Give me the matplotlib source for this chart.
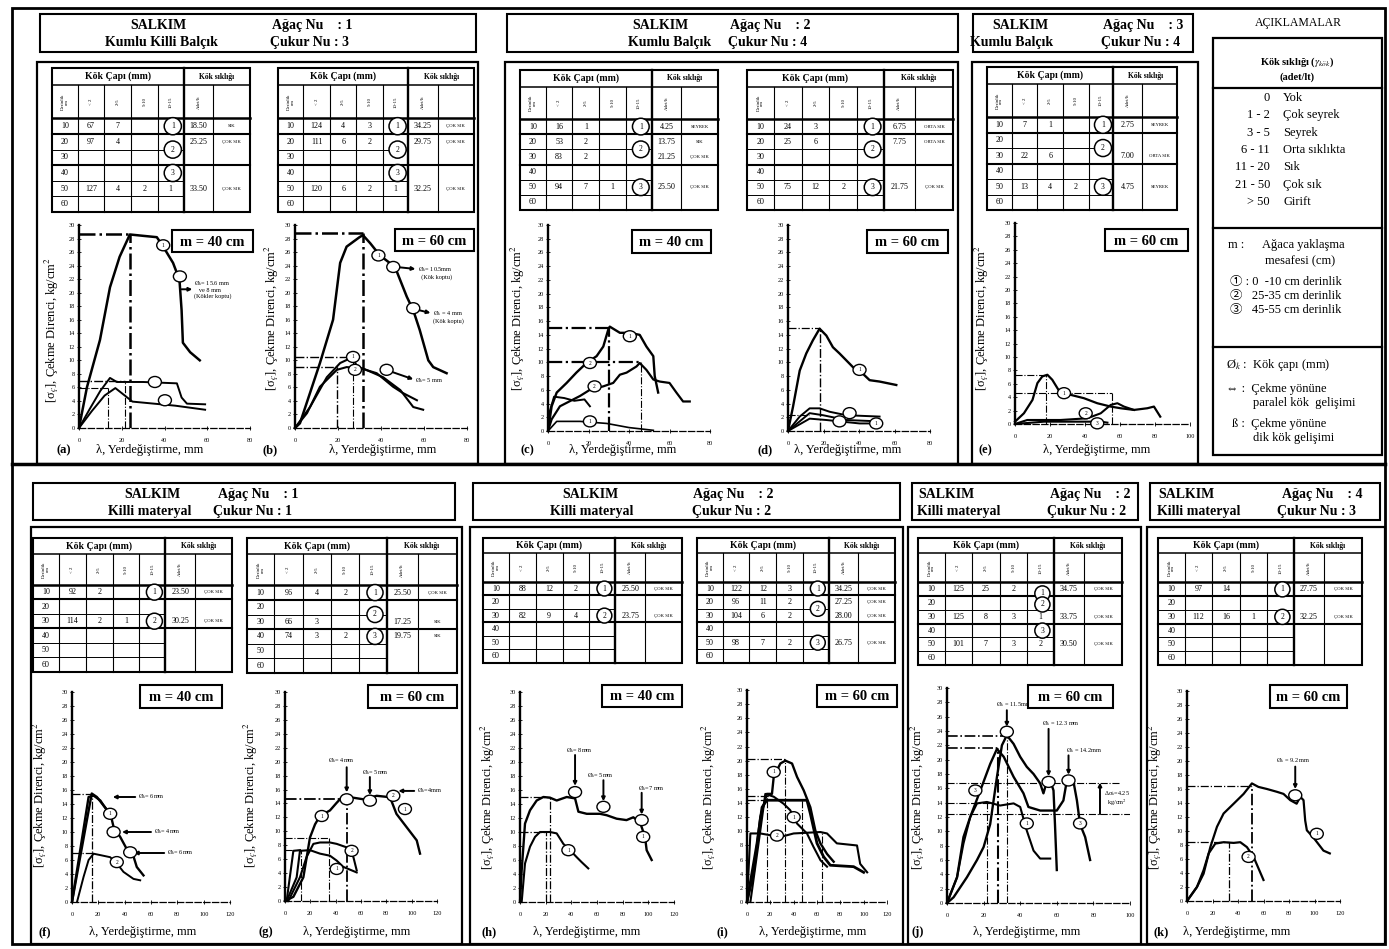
import numpy as np
import matplotlib.pyplot as plt
from matplotlib.patches import Rectangle, Circle, Ellipse

plt.rcParams['font.family'] = ['Liberation Serif', 'DejaVu Serif', 'Noto Sans CJK JP']
plt.rcParams['mathtext.fontset'] = 'stix'

W, H = 1389, 949

# ---------------- curves: displacement (mm) vs pull-out resistance (kg/cm2) ----------------
a1_x = [0, 3.7, 9.8, 14.5, 19, 23.8, 30, 36.4, 39, 44, 47, 48, 48.6, 52, 56.5]
a1_y = [0, 6, 13, 20.8, 25.3, 28.6, 28.4, 28.2, 27, 24.4, 21.9, 17.4, 12.6, 11.2, 10]
a2_x = [0, 5, 10, 14.5, 17.7, 30, 45.8, 48, 50.5, 59]
a2_y = [0, 2.8, 5.5, 7.4, 6.8, 6.8, 6.6, 4.5, 3.6, 3.5]
a3_x = [0, 6, 12, 17, 21, 25, 35, 45, 59]
a3_y = [0, 2.5, 4.8, 5.9, 4.9, 3.9, 3.6, 3.3, 2.7]

b1_x = [0, 2.3, 11.6, 17.7, 21, 24, 30, 31.6, 35, 39.5, 46.5, 52, 55, 58, 62, 64.3, 70.5]
b1_y = [0, 0.7, 9.6, 16, 24.4, 26.8, 28.2, 28.5, 27.3, 25.5, 23.8, 19.4, 17.4, 14.5, 10, 9, 8.1]
b2_x = [0, 7, 14.8, 21, 27, 28.8, 38, 45.6, 50, 56.7]
b2_y = [0, 3.1, 7.5, 9.6, 10.5, 9, 8.1, 6.1, 5.2, 4.1]
b3_x = [0, 5.6, 11.6, 19.5, 24, 31.6, 41, 49, 55, 59.6]
b3_y = [0, 2.2, 6.1, 8.6, 9, 8.8, 7.5, 5.6, 3.1, 2.7]

c1_x = [0, 1.8, 4.3, 9.2, 14, 19, 24, 27.3, 29.7, 30.5, 35.5, 40.4, 45.3, 48.6, 52, 52.7, 54.4]
c1_y = [0, 3.6, 5.6, 7, 8.5, 9.9, 10.9, 12.3, 14.7, 15.2, 14.3, 14.3, 14, 12.3, 10.9, 8, 5.6]
c2_x = [0, 1.8, 5.9, 15.8, 20.7, 27.3, 32.2, 35.5, 38.8, 43.7, 45.3, 48.6, 52, 55.2, 60, 63.4, 66.7, 70]
c2_y = [0, 1.7, 3.6, 5.1, 6, 6.5, 7, 8.2, 8.5, 9.4, 9.9, 8.9, 7.5, 7.2, 7, 5.6, 4.3, 4.3]
c3_x = [0, 1, 3, 8, 13, 18, 20.7]
c3_y = [0, 3, 5, 4.8, 4.4, 4.6, 3.6]
c4_x = [0, 4.3, 15.8, 29, 40, 52]
c4_y = [0, 1.4, 1.4, 1.1, 0.5, 0.1]

d1_x = [0, 2.8, 6.6, 10.3, 14, 17.8, 21.6, 25.3, 29, 32.8, 36.6, 40.3, 46, 51.6, 61]
d1_y = [0, 3.5, 8.8, 11.3, 13.2, 14.9, 13.9, 12.2, 11.3, 10.3, 9.3, 8.8, 7.4, 7.2, 6.7]
d2_x = [0, 6.6, 12.2, 17.8, 23.5, 32.8, 51.6]
d2_y = [0, 2.1, 3.3, 3.3, 2.8, 2.3, 2.1]
d3_x = [0, 12.2, 19.7, 32.8, 51.6]
d3_y = [0, 2.6, 2.3, 1.6, 1.4]
d4_x = [0, 12.2, 21.6, 40.3, 49.7]
d4_y = [0, 1.8, 1.6, 1.1, 1.1]

e1_x = [0, 5.1, 10, 12.8, 15.6, 18.5, 21.3, 26, 31.8, 39.4, 47, 54.7, 60.4, 68, 75.6, 79.4, 83]
e1_y = [0.35, 1.6, 3.6, 6.1, 7.1, 7.35, 6.6, 4.6, 4.35, 3.85, 3.1, 2.6, 2.35, 2.1, 2.35, 2.6, 1.1]
e2_x = [0, 7, 26, 41.3, 49, 54.7, 58.5, 62.3, 68]
e2_y = [0, 0.6, 0.6, 0.85, 1.6, 2.85, 3.1, 2.6, 2.1]
e3_x = [0, 16.6, 49, 52.8]
e3_y = [0, 0.35, 0.35, 0.2]

f1_x = [0, 15, 18.9, 23.9, 29.2, 31.6, 36.6, 41.5, 46.9, 49.2, 54.3]
f1_y = [0, 15.5, 15, 13.8, 12.6, 10.7, 9.3, 7.6, 6.4, 5, 3.8]
f2_x = [0, 12.6, 16.4, 21.5, 26.5]
f2_y = [0, 15, 15.2, 14.5, 13.1]
f3_x = [3.8, 8.8, 12.6, 16.4, 21.5, 29, 34.1, 39.1, 46.7, 51.8]
f3_y = [0, 3.6, 6, 6.9, 6.7, 6.4, 5.5, 4.3, 3.3, 3.1]

g1_x = [0, 6.6, 14.5, 19.7, 23.7, 27.6, 35.5, 40.8, 46, 51.3, 61.8, 72.4, 82.9, 88, 96, 104, 106.6]
g1_y = [0, 0.6, 3.4, 9.1, 11, 12.2, 13, 14.1, 15.1, 14.9, 14.6, 15.1, 14.9, 12.5, 10.6, 8.7, 6.8]
g2_x = [2.6, 11.8, 17, 22.4, 27.6, 35.5, 40.8, 48.7, 54, 56.6]
g2_y = [0, 3.4, 6.3, 8.2, 8.4, 8.4, 8.2, 7.7, 6.3, 4.4]
g3_x = [1.3, 9.2, 11.8, 19.7, 27.6, 35.5, 40.8, 46, 56.6]
g3_y = [0, 3.4, 7.2, 7.3, 6.8, 6.5, 5.8, 4.9, 4.1]
g4_x = [1.3, 6.6, 11.8]
g4_y = [0, 7.2, 7.3]

h1_x = [0, 1.3, 3.9, 7.8, 13, 18.2, 23.4, 28.6, 36.4, 42.9, 45.5, 52, 62.3, 67.5, 75.3, 83, 88.3, 93.5, 97.4, 98.7, 102.6]
h1_y = [0, 4.5, 11.2, 13.1, 14.5, 15, 14.9, 14.5, 15, 14.8, 12.9, 12.6, 12.6, 12.4, 11.9, 11.7, 12.1, 11.4, 9.3, 7.4, 6]
h2_x = [1.3, 3.9, 7.8, 11.7, 15.6, 23.4, 28.6, 33.8, 39, 44.2, 48, 53.2]
h2_y = [0, 5.5, 7.9, 9.3, 10, 10, 9.8, 8.3, 7.4, 6.4, 5.7, 4.8]

i1_x = [0, 5.7, 11.4, 17, 21.4, 22.9, 28.6, 32.9, 38.6, 42.9, 48.6, 54.3, 58.6, 62.9, 68.6, 74.3]
i1_y = [0, 4, 12, 15.3, 15.3, 17.7, 19.6, 20, 19.6, 17.7, 15.8, 13.4, 10.1, 8.3, 6.8, 5.7]
i2_x = [0, 8.6, 12.9, 17, 51.4, 54.3, 60, 65.7, 71.4, 91.4, 100]
i2_y = [0, 8.3, 13.4, 14.4, 14.4, 12.5, 8.3, 6.4, 5.2, 5, 4.2]
i3_x = [0, 2.9, 11.4, 28.6, 40, 62.9, 68.6, 77, 94.3, 97, 103]
i3_y = [0, 9.7, 9.7, 9.2, 9.7, 9.9, 9.7, 8.3, 8, 5.4, 4.2]
i4_x = [2.9, 11.4, 15.7, 22.9, 31.4, 37, 42.9, 51.4, 57, 63, 68.6]
i4_y = [0, 10.1, 15.3, 14.9, 13.9, 13, 11.1, 9.7, 7.8, 5.9, 5]

j1_x = [0, 3.6, 10.9, 16.4, 20, 23.6, 27.3, 30, 32.7, 36.4, 40, 43.6, 47.3, 50.9, 52.7, 54.5, 56.4, 58.2, 59, 60]
j1_y = [0, 0.8, 3.6, 6, 7.8, 11, 17.6, 22, 23.4, 22.2, 20.4, 19, 18, 16.7, 15.3, 16.9, 17.1, 15.7, 11, 4.6]
j2_x = [0, 5.5, 9, 12.7, 18.2, 23.6, 27.3, 31, 36.4, 41.8, 44.5, 50.9, 60, 63.6, 65.5, 69, 71, 72.7, 75.5, 78.2]
j2_y = [0, 3.6, 9.2, 12, 15.7, 19.4, 21.5, 20.4, 17.6, 15.3, 13.4, 12.9, 12.9, 14.3, 17.1, 17.1, 14.3, 11, 9.2, 6]
j3_x = [0, 5.5, 9, 12.7, 16.4, 21.8, 29, 36.4, 40, 43.6, 47.3, 50.9, 56.4]
j3_y = [0, 3.6, 8.3, 12, 13.9, 14.1, 13.6, 13.9, 13.4, 10.1, 7.3, 6.2, 6.2]

k1_x = [0, 7.8, 13, 18.3, 23.5, 28.7, 36.6, 44.4, 50.9, 56, 62.7, 70.5, 75.7, 81, 86, 88.8, 91.4, 92.7, 94, 99, 107, 112]
k1_y = [0, 2, 3.9, 7.7, 10.6, 12.5, 13.9, 15.3, 16.8, 16.3, 16, 15.6, 15.3, 14.4, 13.9, 14.9, 14.4, 11.5, 10.1, 9.1, 7.2, 6.8]
k2_x = [0, 7.8, 13, 17, 22.2, 28.7, 36.6, 41.8, 47, 52.2, 57.4, 60]
k2_y = [0, 2, 4.4, 6.8, 8.2, 8.4, 8.3, 8.4, 7.7, 6.3, 4.1, 3]

# dash-dot guide lines: ('h', y, x_end) / ('v', x, y_end)
dash_a = [('h', 28.6, 24, 1.8), ('v', 24, 28.6, 1.8), ('h', 7, 21.5, 1.0), ('v', 21.5, 7, 0.8), ('h', 5.9, 13.6, 0.8), ('v', 13.6, 5.9, 0.8)]
dash_b = [('h', 28.8, 31.6, 1.8), ('v', 31.6, 28.8, 1.8), ('h', 10.5, 27, 1.0), ('v', 27, 10.5, 0.8), ('h', 9, 19.5, 1.0), ('v', 19.5, 9, 1.0)]
dash_c = [('h', 15, 30.2, 1.6), ('v', 30.2, 15, 1.6), ('h', 10, 45.3, 1.6), ('v', 45.8, 10, 0.8)]
dash_d = [('h', 15, 18, 0.9), ('v', 18, 15, 1.0), ('h', 2.3, 12, 0.8)]
dash_e = [('h', 7.35, 18, 0.8), ('v', 17.5, 7.35, 0.8), ('h', 4.6, 55.6, 0.8), ('v', 55.6, 4.6, 0.8)]
dash_f = [('h', 15.5, 15, 0.9), ('v', 15, 15.5, 0.9), ('h', 7, 16.4, 0.9)]
dash_g = [('h', 14.7, 48.7, 1.3), ('v', 48.7, 14.7, 1.3), ('h', 9, 35, 0.8), ('v', 35, 9, 0.8), ('h', 7.3, 13, 0.8), ('v', 13, 7.3, 0.8)]
dash_h = [('h', 15, 23, 0.9), ('h', 10, 20, 0.9), ('v', 20, 10, 0.9), ('v', 23, 15, 0.9)]
dash_i = [('h', 20.3, 33, 0.9), ('h', 15, 20, 0.9), ('h', 14.5, 17, 0.9), ('v', 17, 15, 0.8), ('v', 33, 20.3, 0.8), ('v', 47, 14.4, 0.8), ('v', 64, 9.9, 0.8)]
dash_j = [('h', 23.3, 33, 1.2), ('h', 21.6, 28, 1.2), ('h', 16.8, 94, 0.8), ('h', 14, 25, 0.8), ('h', 12.4, 100, 0.8), ('v', 22, 14, 0.8), ('v', 28, 21.6, 1.5), ('v', 33, 23.3, 0.8)]
dash_k = [('h', 16.5, 51, 0.9), ('v', 51, 16.5, 1.3), ('h', 8.4, 33, 0.9), ('v', 33, 8.4, 0.9)]

# numbered rings on the curves
rings_a = [(39.4, 27, "1"), (47.2, 22.4, ""), (35.5, 6.8, ""), (40.2, 4.1, "")]
rings_b = [(38.8, 25.5, "1"), (45.7, 23.8, ""), (55, 17.7, ""), (27, 10.5, "1"), (27.9, 8.6, "2"), (42.6, 8.6, "")]
rings_c = [(40.4, 13.8, "1"), (20.7, 9.9, "2"), (23, 6.5, "2"), (20.7, 1.4, "1")]
rings_d = [(40.3, 8.9, "1"), (34.7, 2.6, ""), (49.7, 1.1, "1"), (29, 1.4, "")]
rings_e = [(28, 4.6, "1"), (40.4, 1.6, "2"), (47, 0.1, "3")]
rings_f = [(29, 12.6, "1"), (31.6, 10, ""), (44.2, 7.1, ""), (34, 5.7, "2")]
rings_g = [(48.7, 14.6, ""), (67, 14.4, ""), (85.5, 15.1, "2"), (94.7, 13.2, "1"), (52.6, 7.2, "2"), (40.8, 4.6, "1"), (29, 12.2, "1")]
rings_h = [(42.9, 15.7, ""), (65, 13.6, ""), (94.8, 11.7, ""), (96, 9.3, "1"), (37.7, 7.4, "1")]
rings_i = [(22.9, 18.4, "1"), (40, 12, "1"), (25.7, 9.4, "2")]
rings_j = [(32.7, 23.9, ""), (55.5, 16.9, ""), (66.4, 17.1, ""), (43.6, 11.1, "1"), (72.7, 11.1, "3"), (15.5, 15.7, "3")]
rings_k = [(84.9, 15.1, ""), (101.8, 9.6, "1"), (48.3, 6.3, "2")]

# root diameter notes
notes_a = [("Ø$_k$= 15.6 mm\n   ve 8 mm\n(Kökler koptu)", 54, 20.5)]
notes_b = [("Ø$_k$= 10.5mm\n  (Kök koptu)", 57, 23), ("Ø$_k$ = 4 mm\n(Kök koptu)", 64, 16.5), ("Ø$_k$= 5 mm", 56, 7)]
notes_f = [("Ø$_k$= 6mm", 50, 15), ("Ø$_k$= 4mm", 62, 10), ("Ø$_k$= 6mm", 72, 7)]
notes_g = [("Ø$_k$= 4mm", 34, 20.1), ("Ø$_k$= 5mm", 61, 18.4), ("Ø$_k$=4mm", 104, 15.8)]
notes_h = [("Ø$_k$= 8mm", 36, 21.7), ("Ø$_k$= 5mm", 52, 18.1), ("Ø$_k$=7 mm", 92, 16.2)]
notes_j = [("Ø$_k$ = 11.5mm", 27, 27.7), ("Ø$_k$ = 12.3 mm", 52, 25), ("Ø$_k$ = 14.2mm", 65, 21.3), ("Δσ$_k$=4.25\n  kg/cm$^2$", 86, 14.6)]
notes_k = [("Ø$_k$ = 9.2 mm", 70, 20)]

lines_a = [(48, 20.5, 53, 20.5)]
lines_b = [(47, 23.8, 56, 23.5), (56.5, 17.5, 63, 17), (45, 8.3, 55, 7.2)]
lines_f = [(48, 15, 31, 15), (60, 10, 38, 10), (70, 7, 47, 7)]
lines_g = [(48.7, 19.2, 48.7, 15.6), (67, 17.8, 67, 15.2), (102, 15.8, 89.5, 15.8)]
lines_h = [(42.9, 21, 42.9, 16.6), (65, 17.4, 65, 14.4), (94.8, 15.6, 94.8, 12.5)]
lines_j = [(32.7, 26.9, 32.7, 24.6), (55.5, 24.3, 55.5, 17.7), (66.4, 20.6, 66.4, 17.9), (83.6, 12.4, 83.6, 16.8)]
lines_k = [(84.9, 19.2, 84.9, 16)]

# ---------------- root tables ----------------
depths = ["10", "20", "30", "40", "50", "60"]
col_heads = ["Derinlik\ncm", "< 2", "2-5", "5-10", "10-15", "Adet/lt"]

tab_a = [["67", "7", "", ""], ["97", "4", "", ""], ["", "", "", ""], ["", "", "", ""], ["127", "4", "2", "1"], ["", "", "", ""]]
dens_a = [(0, "18.50", "SIK"), (1, "25.25", "ÇOK SIK"), (4, "33.50", "ÇOK SIK")]
tab_b = [["124", "4", "3", ""], ["111", "6", "2", ""], ["", "", "", ""], ["", "", "", ""], ["120", "6", "2", "1"], ["", "", "", ""]]
dens_b = [(0, "34.25", "ÇOK SIK"), (1, "29.75", "ÇOK SIK"), (4, "32.25", "ÇOK SIK")]
tab_c = [["16", "1", "", ""], ["53", "2", "", ""], ["83", "2", "", ""], ["", "", "", ""], ["94", "7", "1", ""], ["", "", "", ""]]
dens_c = [(0, "4.25", "SEYREK"), (1, "13.75", "SIK"), (2, "21.25", "ÇOK SIK"), (4, "25.50", "ÇOK SIK")]
tab_d = [["24", "3", "", ""], ["25", "6", "", ""], ["", "", "", ""], ["", "", "", ""], ["75", "12", "2", ""], ["", "", "", ""]]
dens_d = [(0, "6.75", "ORTA SIK"), (1, "7.75", "ORTA SIK"), (4, "21.75", "ÇOK SIK")]
tab_e = [["7", "1", "", ""], ["", "", "", ""], ["22", "6", "", ""], ["", "", "", ""], ["13", "4", "2", ""], ["", "", "", ""]]
dens_e = [(0, "2.75", "SEYREK"), (2, "7.00", "ORTA SIK"), (4, "4.75", "SEYREK")]
tab_f = [["92", "2", "", ""], ["", "", "", ""], ["114", "2", "1", ""], ["", "", "", ""], ["", "", "", ""], ["", "", "", ""]]
dens_f = [(0, "23.50", "ÇOK SIK"), (2, "30.25", "ÇOK SIK")]
tab_g = [["96", "4", "2", ""], ["", "", "", ""], ["66", "3", "", ""], ["74", "3", "2", ""], ["", "", "", ""], ["", "", "", ""]]
dens_g = [(0, "25.50", "ÇOK SIK"), (2, "17.25", "SIK"), (3, "19.75", "SIK")]
tab_h = [["88", "12", "2", ""], ["", "", "", ""], ["82", "9", "4", ""], ["", "", "", ""], ["", "", "", ""], ["", "", "", ""]]
dens_h = [(0, "25.50", "ÇOK SIK"), (2, "23.75", "ÇOK SIK")]
tab_i = [["122", "12", "3", ""], ["96", "11", "2", ""], ["104", "6", "2", ""], ["", "", "", ""], ["98", "7", "2", ""], ["", "", "", ""]]
dens_i = [(0, "34.25", "ÇOK SIK"), (1, "27.25", "ÇOK SIK"), (2, "28.00", "ÇOK SIK"), (4, "26.75", "ÇOK SIK")]
tab_j = [["125", "25", "2", ""], ["", "", "", ""], ["125", "8", "3", "1"], ["", "", "", ""], ["101", "7", "3", "2"], ["", "", "", ""]]
dens_j = [(0, "34.75", "ÇOK SIK"), (2, "33.75", "ÇOK SIK"), (4, "30.50", "ÇOK SIK")]
tab_k = [["97", "14", "", ""], ["", "", "", ""], ["112", "16", "1", ""], ["", "", "", ""], ["", "", "", ""], ["", "", "", ""]]
dens_k = [(0, "27.75", "ÇOK SIK"), (2, "32.25", "ÇOK SIK")]

ring3 = [(0, "1"), (1.5, "2"), (3, "3")]
ring3_low = [(0, "1"), (1.5, "2"), (4, "3")]
ring2 = [(0, "1"), (2, "2")]
ring_j = [(0.3, "1"), (1.1, "2"), (3, "3")]

headers = [
    (40, 14, 476, 52, [("SALKIM", 158, 'center'), ("Ağaç Nu    : 1", 272, 'left')], [("Kumlu Killi Balçık", 161, 'center'), ("Çukur Nu : 3", 270, 'left')]),
    (507, 14, 958, 52, [("SALKIM", 660, 'center'), ("Ağaç Nu    : 2", 730, 'left')], [("Kumlu Balçık", 670, 'center'), ("Çukur Nu : 4", 728, 'left')]),
    (973, 14, 1193, 52, [("SALKIM", 1020, 'center'), ("Ağaç Nu    : 3", 1103, 'left')], [("Kumlu Balçık", 1012, 'center'), ("Çukur Nu : 4", 1101, 'left')]),
    (33, 483, 455, 520, [("SALKIM", 152, 'center'), ("Ağaç Nu    : 1", 218, 'left')], [("Killi materyal", 150, 'center'), ("Çukur Nu : 1", 213, 'left')]),
    (473, 483, 900, 520, [("SALKIM", 590, 'center'), ("Ağaç Nu    : 2", 693, 'left')], [("Killi materyal", 592, 'center'), ("Çukur Nu : 2", 692, 'left')]),
    (912, 483, 1138, 520, [("SALKIM", 918, 'left'), ("Ağaç Nu    : 2", 1050, 'left')], [("Killi materyal", 917, 'left'), ("Çukur Nu : 2", 1047, 'left')]),
    (1150, 483, 1380, 520, [("SALKIM", 1158, 'left'), ("Ağaç Nu    : 4", 1282, 'left')], [("Killi materyal", 1157, 'left'), ("Çukur Nu : 3", 1277, 'left')]),
]

leg_vals = ["0", "1 - 2", "3 - 5", "6 - 11", "11 - 20", "21 - 50", "> 50"]
leg_names = ["Yok", "Çok seyrek", "Seyrek", "Orta sıklıkta", "Sık", "Çok sık", "Girift"]

ylab = "[σ$_ç$], Çekme Direnci, kg/cm$^2$"
xlab = "λ, Yerdeğiştirme, mm"

# ---------------- drawing ----------------
fig = plt.figure(figsize=(W / 100, H / 100), dpi=100)
bg = fig.add_axes([0, 0, 1, 1], zorder=5)
bg.set_xlim(0, W)
bg.set_ylim(H, 0)
bg.axis('off')


def rect(x0, y0, x1, y1, lw=1.3, fc='none'):
    bg.add_patch(Rectangle((x0, y0), x1 - x0, y1 - y0, fill=(fc != 'none'), fc=fc, ec='k', lw=lw))


def draw_table(x0, y0, w, h, cells, dens, rings):
    fr = [0.13, 0.135, 0.135, 0.135, 0.13, 0.15, 0.185]
    xs = x0 + w * np.concatenate([[0], np.cumsum(fr)])
    h1 = h * 0.12
    h2 = h * 0.23
    rh = (h - h1 - h2) / 6
    yd = y0 + h1 + h2
    rect(x0, y0, x0 + w, y0 + h, lw=1.5)
    bg.plot([x0, x0 + w], [y0 + h1] * 2, 'k', lw=1.1)
    bg.plot([x0, x0 + w], [yd] * 2, 'k', lw=1.8)
    for i in range(1, 7):
        top = y0 if i == 5 else y0 + h1
        bg.plot([xs[i]] * 2, [top, y0 + h], 'k', lw=1.7 if i == 5 else 0.8)
    for r in range(1, 6):
        yy = yd + r * rh
        thick = r in (1, 3)
        bg.plot([x0, xs[5]], [yy, yy], 'k', lw=1.5 if thick else 0.7)
        if thick:
            bg.plot([xs[5], x0 + w], [yy, yy], 'k', lw=1.5)
    bg.text((x0 + xs[5]) / 2, y0 + h1 / 2, "Kök Çapı (mm)", ha='center', va='center', fontsize=7, fontweight='bold')
    bg.text((xs[5] + x0 + w) / 2, y0 + h1 / 2, "Kök sıklığı", ha='center', va='center', fontsize=5.5, fontweight='bold')
    for i, t in enumerate(col_heads):
        bg.text((xs[i] + xs[i + 1]) / 2, y0 + h1 + h2 / 2, t, rotation=90, ha='center', va='center', fontsize=3.5, linespacing=0.9)
    for r in range(6):
        cy = yd + (r + 0.5) * rh
        bg.text((xs[0] + xs[1]) / 2, cy, depths[r], ha='center', va='center', fontsize=5.8)
        for c, v in enumerate(cells[r]):
            if v:
                bg.text((xs[c + 1] + xs[c + 2]) / 2, cy, v, ha='center', va='center', fontsize=5.8)
    for r, adet, desc in dens:
        cy = yd + (r + 0.5) * rh
        bg.text((xs[5] + xs[6]) / 2, cy, adet, ha='center', va='center', fontsize=5.8)
        bg.text((xs[6] + xs[7]) / 2, cy, desc, ha='center', va='center', fontsize=3.4)
    for r, t in rings:
        cy = yd + (r + 0.5) * rh
        cx = (xs[4] + xs[5]) / 2 + 2
        bg.add_patch(Circle((cx, cy), rh * 0.55, fc='white', ec='k', lw=1.1, zorder=3))
        bg.text(cx, cy, t, ha='center', va='center', fontsize=5.5, zorder=4)


def draw_panel(p):
    x0, x1, y0, y1 = p['box']
    xmax = p['xmax']
    ax = fig.add_axes([x0 / W, 1 - y0 / H, (x1 - x0) / W, (y0 - y1) / H])
    ax.set_xlim(0, xmax)
    ax.set_ylim(0, 30)
    ax.patch.set_visible(False)
    for s in ('top', 'right'):
        ax.spines[s].set_visible(False)
    ax.spines['left'].set_linewidth(1.7)
    ax.spines['bottom'].set_linewidth(0.9)
    ax.spines['bottom'].set_linestyle((0, (5, 2)))
    ax.set_xticks(np.arange(0, xmax + 1, 20))
    ax.set_yticks(np.arange(0, 31, 2))
    ax.tick_params(labelsize=4.5, length=2.5, width=0.6, direction='inout')
    ax.tick_params(axis='x', pad=6)
    ax.tick_params(axis='y', pad=1.5)
    for cx, cy, lw in p['curves']:
        ax.plot(cx, cy, color='k', lw=lw + 0.2, solid_joinstyle='round', clip_on=False)
    for kind, v, ext, lw in p['dash']:
        if kind == 'h':
            ax.plot([0, ext], [v, v], color='k', lw=lw, ls='-.')
        else:
            ax.plot([v, v], [0, ext], color='k', lw=lw, ls='-.')
    for t, tx, ty in p.get('notes', []):
        ax.text(tx, ty, t, fontsize=4.5, ha='left', va='center', linespacing=1.0)
    for lx0, ly0, lx1, ly1 in p.get('lines', []):
        ax.annotate('', xy=(lx1, ly1), xytext=(lx0, ly0),
                    arrowprops=dict(arrowstyle='-|>', lw=1.4, color='k', mutation_scale=5, shrinkA=0, shrinkB=0))

    def to_px(x, y):
        return x0 + x / xmax * (x1 - x0), y0 - y / 30 * (y0 - y1)

    for rx, ry, t in p['rings']:
        px, py = to_px(rx, ry)
        bg.add_patch(Ellipse((px, py), 13, 11, fc='white', ec='k', lw=1.0))
        if t:
            bg.text(px, py, t, fontsize=4, ha='center', va='center')
    mx0, my0, mx1, my1 = p['mbox']
    rect(mx0, my0, mx1, my1, lw=1.5, fc='white')
    bg.text((mx0 + mx1) / 2, (my0 + my1) / 2 + 1, p['m'], fontsize=10.5, fontweight='bold', ha='center', va='center')
    if p.get('ylab'):
        bg.text(p['ylab'][0], p['ylab'][1], ylab, rotation=90, fontsize=9, ha='center', va='center')
    bg.text(p['xlab'][0], p['xlab'][1], xlab, fontsize=9, ha='center', va='center')
    bg.text(p['plab'][0], p['plab'][1], p['label'], fontsize=9, fontweight='bold', ha='center', va='center')


panels = [
    dict(label="(a)", box=(79, 250, 428, 225), xmax=80, curves=[(a1_x, a1_y, 1.6), (a2_x, a2_y, 1.2), (a3_x, a3_y, 1.2)],
         dash=dash_a, rings=rings_a, notes=notes_a, lines=lines_a, m="m = 40 cm", mbox=(172, 230, 253, 252),
         ylab=(52, 330), xlab=(150, 450), plab=(64, 450)),
    dict(label="(b)", box=(295, 467, 428, 225), xmax=80, curves=[(b1_x, b1_y, 1.6), (b2_x, b2_y, 1.3), (b3_x, b3_y, 1.3)],
         dash=dash_b, rings=rings_b, notes=notes_b, lines=lines_b, m="m = 60 cm", mbox=(395, 229, 474, 251),
         ylab=(272, 318), xlab=(383, 450), plab=(270, 450)),
    dict(label="(c)", box=(548, 710, 431, 225), xmax=80, curves=[(c1_x, c1_y, 1.5), (c2_x, c2_y, 1.4), (c3_x, c3_y, 1.2), (c4_x, c4_y, 1.0)],
         dash=dash_c, rings=rings_c, m="m = 40 cm", mbox=(632, 230, 711, 253),
         ylab=(518, 318), xlab=(623, 450), plab=(527, 450)),
    dict(label="(d)", box=(788, 930, 431, 225), xmax=80, curves=[(d1_x, d1_y, 1.5), (d2_x, d2_y, 1.2), (d3_x, d3_y, 1.2), (d4_x, d4_y, 1.2)],
         dash=dash_d, rings=rings_d, m="m = 60 cm", mbox=(867, 230, 948, 253),
         xlab=(848, 450), plab=(765, 450)),
    dict(label="(e)", box=(1015, 1190, 424, 223), xmax=100, curves=[(e1_x, e1_y, 1.4), (e2_x, e2_y, 1.3), (e3_x, e3_y, 1.3)],
         dash=dash_e, rings=rings_e, m="m = 60 cm", mbox=(1105, 229, 1188, 251),
         ylab=(982, 318), xlab=(1097, 450), plab=(985, 450)),
    dict(label="(f)", box=(72, 230, 902, 692), xmax=120, curves=[(f1_x, f1_y, 1.5), (f2_x, f2_y, 1.5), (f3_x, f3_y, 1.2)],
         dash=dash_f, rings=rings_f, notes=notes_f, lines=lines_f, m="m = 40 cm", mbox=(140, 685, 222, 708),
         ylab=(40, 795), xlab=(143, 932), plab=(45, 932)),
    dict(label="(g)", box=(285, 437, 901, 692), xmax=120, curves=[(g1_x, g1_y, 1.5), (g2_x, g2_y, 1.3), (g3_x, g3_y, 1.3), (g4_x, g4_y, 1.3)],
         dash=dash_g, rings=rings_g, notes=notes_g, lines=lines_g, m="m = 60 cm", mbox=(368, 685, 457, 708),
         ylab=(251, 795), xlab=(357, 932), plab=(266, 932)),
    dict(label="(h)", box=(520, 674, 902, 692), xmax=120, curves=[(h1_x, h1_y, 1.5), (h2_x, h2_y, 1.3)],
         dash=dash_h, rings=rings_h, notes=notes_h, lines=lines_h, m="m = 40 cm", mbox=(602, 685, 682, 707),
         ylab=(488, 797), xlab=(587, 932), plab=(489, 932)),
    dict(label="(i)", box=(747, 887, 902, 690), xmax=120, curves=[(i1_x, i1_y, 1.5), (i2_x, i2_y, 1.8), (i3_x, i3_y, 1.3), (i4_x, i4_y, 1.3)],
         dash=dash_i, rings=rings_i, m="m = 60 cm", mbox=(817, 685, 897, 707),
         ylab=(709, 797), xlab=(813, 932), plab=(722, 932)),
    dict(label="(j)", box=(947, 1130, 903, 688), xmax=100, curves=[(j1_x, j1_y, 1.5), (j2_x, j2_y, 1.5), (j3_x, j3_y, 1.3)],
         dash=dash_j, rings=rings_j, notes=notes_j, lines=lines_j, m="m = 60 cm", mbox=(1028, 685, 1113, 708),
         ylab=(918, 797), xlab=(1027, 932), plab=(918, 932)),
    dict(label="(k)", box=(1187, 1340, 901, 691), xmax=120, curves=[(k1_x, k1_y, 1.4), (k2_x, k2_y, 1.4)],
         dash=dash_k, rings=rings_k, notes=notes_k, lines=lines_k, m="m = 60 cm", mbox=(1270, 685, 1347, 708),
         ylab=(1155, 797), xlab=(1237, 932), plab=(1161, 932)),
]

# frames
rect(12, 8, 1385, 944, lw=2)
bg.plot([12, 1385], [464, 464], 'k', lw=2.5)
for b in [(37, 62, 478, 464), (505, 62, 958, 464), (972, 62, 1198, 464),
          (31, 527, 462, 944), (470, 527, 903, 944), (908, 527, 1141, 944), (1147, 527, 1385, 944)]:
    rect(*b, lw=1.6)

for hx0, hy0, hx1, hy1, row1, row2 in headers:
    rect(hx0, hy0, hx1, hy1, lw=1.5)
    for t, x, ha in row1:
        bg.text(x, hy0 + 11, t, fontsize=10, fontweight='bold', ha=ha, va='center')
    for t, x, ha in row2:
        bg.text(x, hy0 + 28, t, fontsize=10, fontweight='bold', ha=ha, va='center')

draw_table(52, 68, 198, 144, tab_a, dens_a, ring3)
draw_table(278, 68, 196, 144, tab_b, dens_b, ring3)
draw_table(520, 70, 198, 140, tab_c, dens_c, ring3_low)
draw_table(747, 70, 206, 140, tab_d, dens_d, ring3_low)
draw_table(987, 67, 190, 143, tab_e, dens_e, ring3_low)
draw_table(33, 538, 199, 134, tab_f, dens_f, ring2)
draw_table(247, 538, 210, 135, tab_g, dens_g, ring3)
draw_table(483, 538, 199, 125, tab_h, dens_h, ring2)
draw_table(697, 538, 198, 125, tab_i, dens_i, ring3_low)
draw_table(918, 538, 204, 127, tab_j, dens_j, ring_j)
draw_table(1158, 538, 204, 127, tab_k, dens_k, ring2)

for p in panels:
    draw_panel(p)

# legend
bg.text(1298, 23, "AÇIKLAMALAR", fontsize=8.5, ha='center', va='center')
rect(1213, 38, 1382, 455, lw=1.6)
bg.text(1297, 62, "Kök sıklığı ($\\gamma_{k\\ddot{o}k}$)", fontsize=7.5, fontweight='bold', ha='center', va='center')
bg.text(1297, 77, "(adet/lt)", fontsize=7.5, fontweight='bold', ha='center', va='center')
bg.plot([1213, 1382], [88, 88], 'k', lw=1.6)
for k, (v, n) in enumerate(zip(leg_vals, leg_names)):
    yy = 98 + k * 17.3
    bg.text(1270, yy, v, fontsize=9, ha='right', va='center')
    bg.text(1283, yy, n, fontsize=9, ha='left', va='center')
bg.plot([1213, 1382], [228, 228], 'k', lw=1.6)
bg.text(1228, 245, "m :", fontsize=9, ha='left', va='center')
bg.text(1262, 245, "Ağaca yaklaşma", fontsize=9, ha='left', va='center')
bg.text(1300, 261, "mesafesi (cm)", fontsize=9, ha='center', va='center')
bg.text(1230, 282, "① : 0  -10 cm derinlik", fontsize=9, ha='left', va='center')
bg.text(1230, 296, "②   25-35 cm derinlik", fontsize=9, ha='left', va='center')
bg.text(1230, 310, "③   45-55 cm derinlik", fontsize=9, ha='left', va='center')
bg.plot([1213, 1382], [347, 347], 'k', lw=1.6)
bg.text(1226, 365, "Ø$_k$ :  Kök çapı (mm)", fontsize=9, ha='left', va='center')
bg.text(1226, 389, "⇔ :  Çekme yönüne", fontsize=9, ha='left', va='center')
bg.text(1253, 403, "paralel kök  gelişimi", fontsize=9, ha='left', va='center')
bg.text(1232, 424, "ß :  Çekme yönüne", fontsize=9, ha='left', va='center')
bg.text(1253, 438, "dik kök gelişimi", fontsize=9, ha='left', va='center')

fig.savefig('out.png', dpi=100)
